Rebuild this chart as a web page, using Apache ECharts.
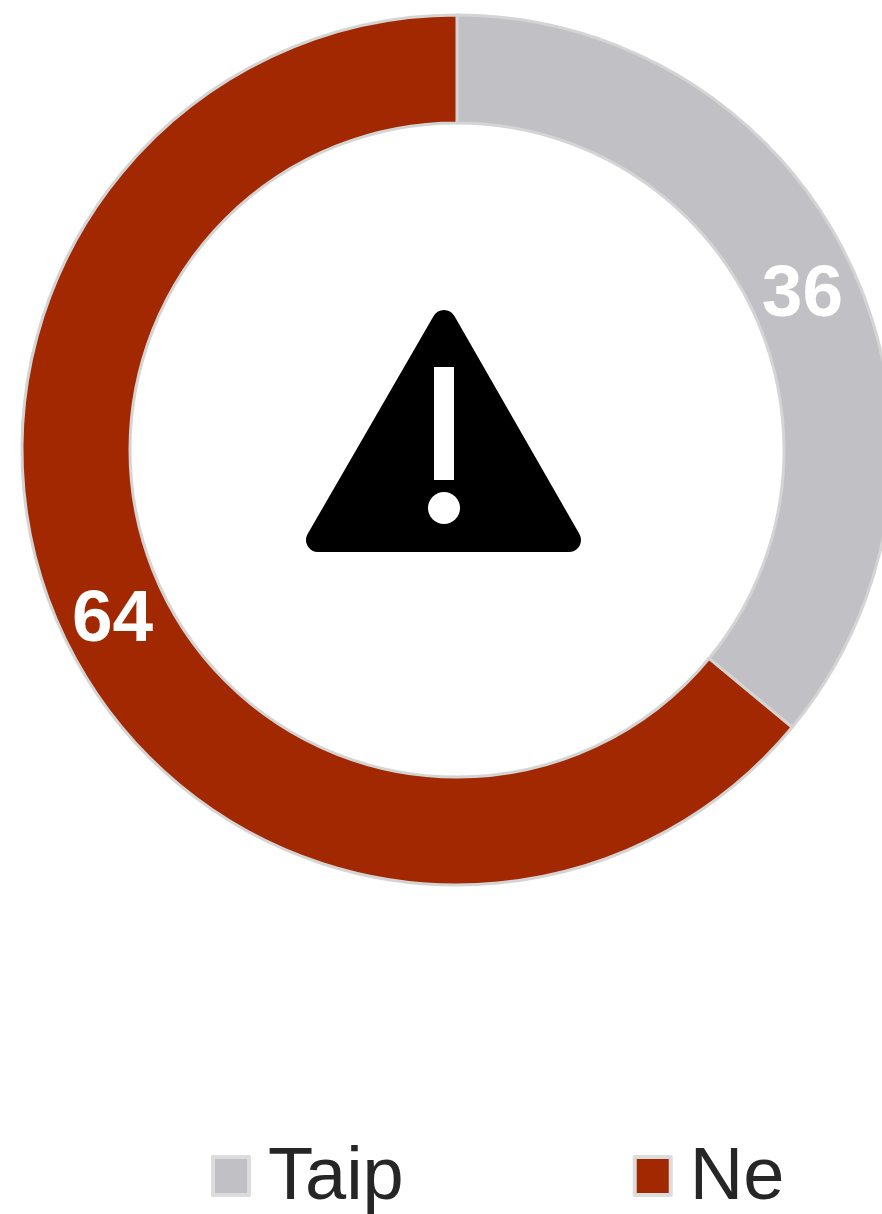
<!DOCTYPE html>
<html>
<head>
<meta charset="utf-8">
<script src="https://cdn.jsdelivr.net/npm/echarts@6/dist/echarts.min.js"></script>
<style>
html,body{margin:0;padding:0;background:#fff;}
#main{width:882px;height:1214px;}
</style>
</head>
<body>
<div id="main"></div>
<script>
var categories = ['Taip', 'Ne'];
var values = [36, 64];
var colors = ['#c1c1c5', '#a12800'];
var labelOffsets = [[-2, 9], [3, 7]];

var chart = echarts.init(document.getElementById('main'));
var pieData = categories.map(function(name, i){
  return {value: values[i], name: name, itemStyle: {color: colors[i]}, label: {offset: labelOffsets[i]}};
});

chart.setOption({
  animation: false,
  legend: {
    data: categories,
    top: 1142,
    left: 211,
    padding: 0,
    itemWidth: 36,
    itemHeight: 38,
    itemGap: 229,
    icon: 'rect',
    formatter: '{t|{name}}',
    textStyle: {
      rich: {
        t: {fontFamily: 'Liberation Sans', fontSize: 74, color: '#262626', padding: [6, 0, 0, 14]}
      }
    },
    itemStyle: {borderColor: '#dcdcdc', borderWidth: 4}
  },
  series: [{
    type: 'pie',
    center: [457, 450],
    radius: [327, 435],
    startAngle: 90,
    clockwise: true,
    silent: true,
    itemStyle: {borderColor: '#d4d4d4', borderWidth: 3},
    label: {
      show: true,
      position: 'inside',
      formatter: '{c}',
      fontFamily: 'Liberation Sans',
      fontWeight: 'bold',
      fontSize: 73,
      color: '#fff'
    },
    labelLine: {show: false},
    data: pieData
  }],
  // warning sign in the middle of the ring
  graphic: {
    elements: [
      {type: 'polygon', shape: {points: [[444, 322], [318, 540], [569, 540]]},
        style: {fill: '#000', stroke: '#000', lineWidth: 24, lineJoin: 'round'}},
      {type: 'rect', shape: {x: 434, y: 367, width: 20, height: 113}, style: {fill: '#fff'}},
      {type: 'circle', shape: {cx: 444, cy: 508, r: 16}, style: {fill: '#fff'}}
    ]
  }
});
</script>
</body>
</html>
